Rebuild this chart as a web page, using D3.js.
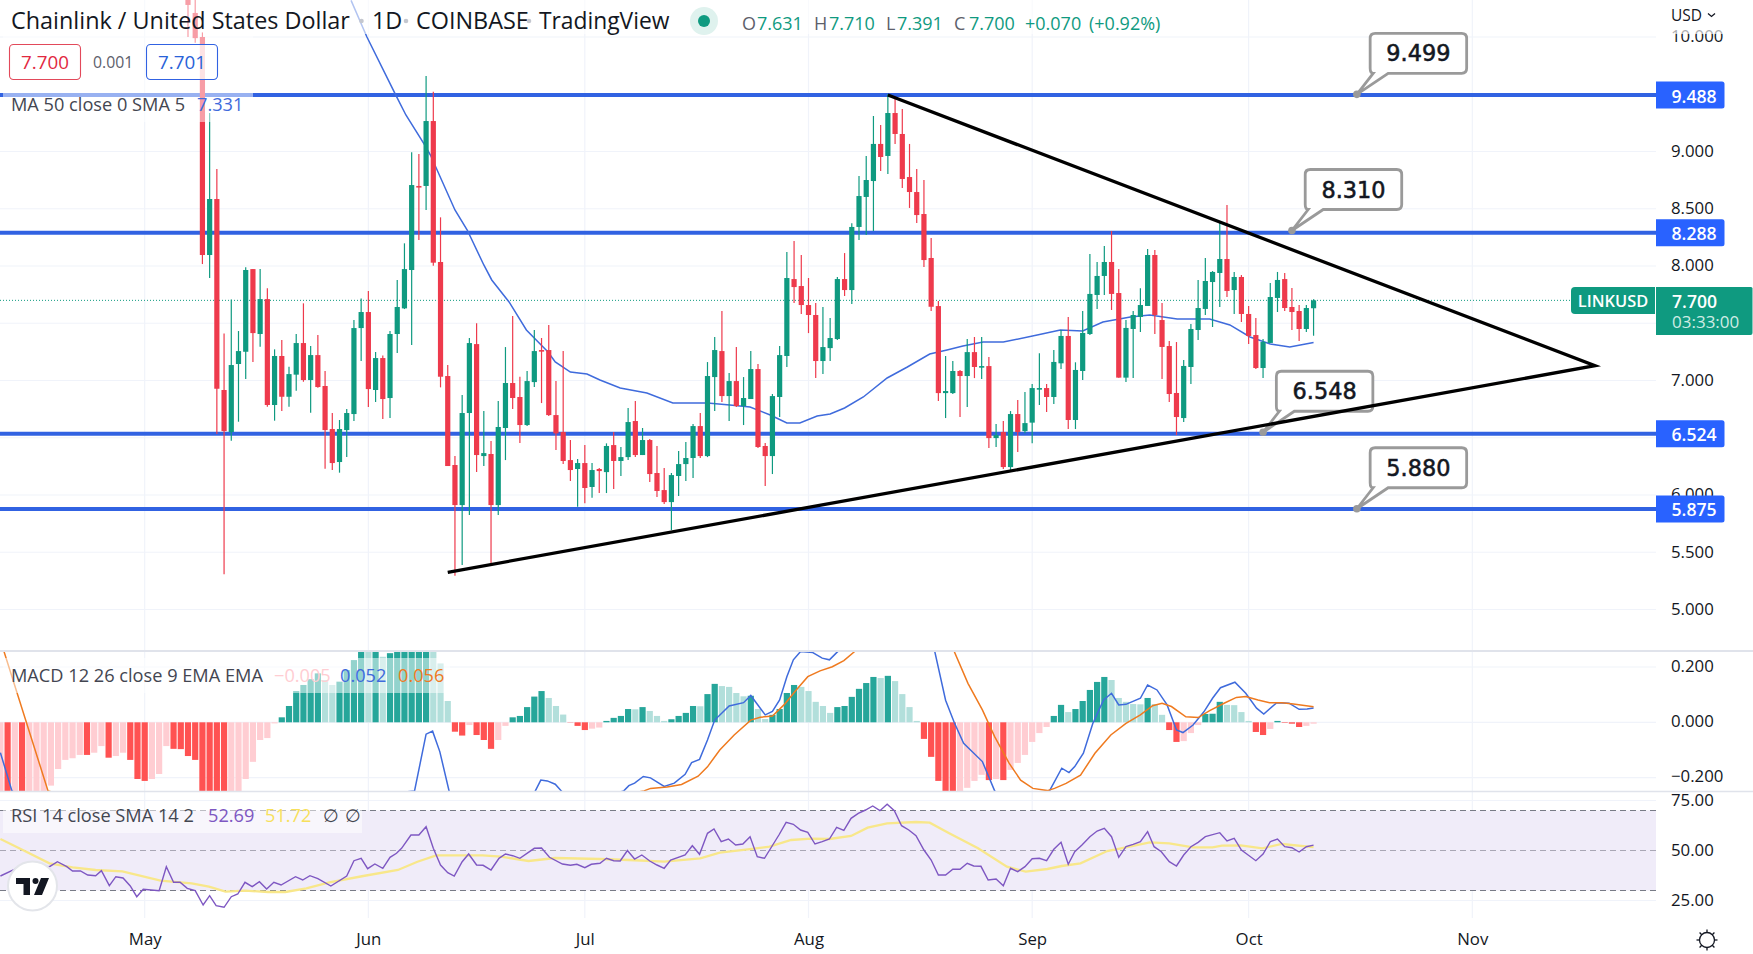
<!DOCTYPE html>
<html>
<head>
<meta charset="utf-8">
<script src="https://cdn.jsdelivr.net/npm/d3@7"></script>
<style>
  html, body { margin: 0; padding: 0; background: #fff; }
  svg { display: block; }
  text { font-family: "Open Sans", sans-serif; }
</style>
</head>
<body>
<svg id="chart" width="1753" height="954"></svg>
<script>
// candles, one per day, day number counted from May 1
const firstDay = 6;
const opens = [10.35,10.21,10.0,8.096,8.585,6.917,6.55,7.144,7.251,7.973,7.406,7.711,6.786,7.214,6.858,7.051,7.327,7.004,7.222,6.952,6.576,6.288,6.567,6.707,7.458,7.598,6.917,7.196,6.847,7.406,7.63,7.965,8.699,8.699,9.266,8.035,7.039,6.262,5.912,6.716,7.318,6.34,6.358,5.912,6.585,6.978,6.856,6.611,6.986,7.266,7.266,6.698,6.55,6.305,6.227,6.279,6.07,6.227,6.2,6.436,6.297,6.331,6.646,6.349,6.48,6.192,6.043,5.938,6.166,6.27,6.323,6.602,6.34,7.03,7.257,6.864,6.995,6.777,6.838,7.1,6.428,6.34,6.856,7.214,7.886,7.825,7.659,7.572,7.17,7.283,7.362,7.886,7.79,8.341,8.603,8.742,9.066,8.961,9.336,9.153,8.777,8.646,8.454,8.07,7.65,6.89,6.89,7.083,7.039,7.248,7.118,7.126,6.497,6.55,6.244,6.707,6.558,6.632,6.926,6.934,6.856,7.15,7.389,6.655,7.083,7.406,7.747,7.913,8.035,7.764,7.025,7.45,7.555,7.651,8.096,7.528,7.301,6.891,6.672,7.118,7.441,7.625,7.86,7.939,8.061,7.79,7.904,7.581,7.397,7.109,7.328,7.721,7.886,7.642,7.607,7.45,7.631];
const highs = [10.5,10.5,10.04,9.336,8.847,7.411,7.708,7.432,7.988,7.973,7.973,7.805,7.272,7.353,7.12,7.406,7.674,7.301,7.397,7.083,6.716,6.655,6.751,7.528,7.717,7.781,7.249,7.219,7.432,7.877,8.198,8.993,8.978,9.659,9.522,8.425,7.135,6.34,6.873,7.371,7.499,6.733,6.471,6.821,7.292,7.563,7.033,7.083,7.441,7.371,7.484,6.995,7.257,6.48,6.314,6.436,6.279,6.235,6.451,6.55,6.419,6.759,6.821,6.585,6.489,6.428,6.235,6.192,6.384,6.463,6.62,6.716,7.161,7.38,7.607,7.065,7.292,7.03,7.257,7.144,6.454,6.882,7.301,8.122,8.218,8.096,7.895,7.676,7.641,7.545,7.904,8.113,8.373,8.786,8.961,9.31,9.232,9.502,9.485,9.371,9.066,8.847,8.751,8.245,7.694,7.214,7.17,7.091,7.362,7.38,7.38,7.205,6.62,6.646,6.733,6.829,6.899,6.969,7.237,6.969,7.266,7.441,7.555,7.159,7.607,8.105,8.035,8.175,8.306,7.974,7.528,7.607,7.805,8.149,8.14,7.677,7.345,7.336,7.179,7.493,7.878,8.07,7.956,8.393,8.533,7.948,7.921,7.651,7.546,7.362,7.852,7.948,7.939,7.808,7.659,7.659,7.71];
const lows = [10.0,9.95,8.017,7.895,6.532,5.307,6.474,6.64,7.013,7.161,7.295,6.771,6.649,6.733,6.771,6.911,6.989,6.719,6.937,6.23,6.218,6.195,6.331,6.646,7.17,6.768,6.812,6.663,6.672,7.24,7.624,7.31,8.227,8.489,8.003,6.94,6.253,5.295,5.388,5.825,6.201,6.253,5.403,5.825,6.305,6.751,6.454,6.602,6.943,6.803,6.69,6.393,6.27,6.122,5.898,5.927,5.976,6.017,6.017,6.052,6.166,6.305,6.331,6.349,6.113,5.982,5.921,5.694,5.991,6.122,6.148,6.323,6.331,6.733,6.812,6.646,6.768,6.611,6.838,6.41,6.078,6.183,6.681,7.118,7.676,7.58,7.414,7.021,7.056,7.17,7.353,7.738,7.668,8.227,8.271,8.306,8.83,8.804,9.066,8.681,8.507,8.376,7.991,7.607,6.821,6.672,6.882,6.681,6.768,7.021,7.013,6.41,6.419,6.227,6.209,6.375,6.54,6.451,6.786,6.725,6.795,7.1,6.576,6.576,7.004,7.397,7.624,7.747,7.616,7.025,6.987,7.022,7.424,7.651,7.406,7.013,6.812,6.524,6.638,6.969,7.354,7.572,7.467,7.642,7.729,7.581,7.511,7.319,7.1,7.022,7.328,7.598,7.607,7.441,7.345,7.424,7.391];
const closes = [10.28,9.99,8.096,8.585,6.928,6.558,7.135,7.257,7.965,7.414,7.711,6.786,7.214,6.858,7.056,7.327,7.004,7.222,6.943,6.567,6.279,6.576,6.716,7.458,7.598,6.925,7.196,6.838,7.406,7.642,7.973,8.707,8.689,9.266,8.029,7.033,6.253,5.912,6.716,7.327,6.349,6.366,5.912,6.594,6.978,6.847,6.611,6.995,7.257,7.257,6.698,6.538,6.297,6.218,6.279,6.061,6.218,6.209,6.428,6.297,6.331,6.637,6.349,6.48,6.183,6.035,5.938,6.174,6.27,6.323,6.602,6.34,7.039,7.266,6.864,6.995,6.777,6.847,7.1,6.419,6.34,6.864,7.222,7.895,7.816,7.659,7.572,7.17,7.292,7.371,7.886,7.79,8.341,8.611,8.751,9.066,8.952,9.336,9.153,8.76,8.646,8.445,8.052,7.644,6.89,6.908,7.083,7.039,7.248,7.118,7.126,6.497,6.524,6.244,6.707,6.55,6.628,6.934,6.934,6.856,7.162,7.389,6.655,7.092,7.415,7.756,7.913,8.035,7.756,7.025,7.459,7.572,7.659,8.096,7.572,7.293,6.882,6.681,7.127,7.45,7.633,7.869,7.948,8.061,7.782,7.904,7.581,7.389,7.109,7.336,7.729,7.878,7.633,7.598,7.45,7.633,7.7];

// 50 day moving average
const maDays = [28.6,30.8,34.8,36.2,38.8,39.6,43,44.7,47,48.1,50.5,52.9,55.9,56.9,59,61.3,63.1,65.9,69.6,73.2,78,81.1,83.9,86.7,89,90.8,93.2,95,97,99.6,102.9,105.7,108.8,111.2,113.4,116.2,119,123.7,126.9,130,132.8,136.6,139.3,143.1,147.6,150.4,153.2,156,158.7,162];
const maValues = [10.32,10,9.493,9.319,9.057,8.969,8.489,8.314,8.009,7.878,7.686,7.441,7.249,7.162,7.074,7.057,7.004,6.934,6.891,6.803,6.803,6.786,6.769,6.699,6.629,6.629,6.69,6.707,6.76,6.856,7.022,7.118,7.231,7.266,7.301,7.336,7.336,7.397,7.441,7.432,7.511,7.555,7.572,7.537,7.537,7.485,7.38,7.319,7.293,7.331];

// support and resistance levels, where the lines sit and what their tags say
const levelValues = [9.493,8.291,6.535,5.878];
const levelLabels = ["9.488","8.288","6.524","5.875"];
const calloutValues = [9.499,8.31,6.548,5.88];
const calloutLabels = ["9.499","8.310","6.548","5.880"];
const calloutDays = [168,159,155,168];

// triangle drawn on the chart
const triangleDays = [103,201,42];
const trianglePrices = [9.493,7.129,5.325];

// macd histogram, starts at day -20
const histFirstDay = -20;
const histValues = [-.40,-.42,-.39,-.41,-.38,-.33,-.25,-.229,-.169,-.136,-.13,-.118,-.118,-.11,-.086,-.128,-.122,-.11,-.136,-.205,-.212,-.205,-.187,-.086,-.096,-.097,-.122,-.136,-.26,-.30,-.33,-.35,-.31,-.27,-.205,-.143,-.064,-.057,-.004,.018,.059,.113,.135,.156,.177,.153,.135,.147,.189,.225,.27,.262,.28,.237,.25,.27,.30,.33,.35,.37,.30,.213,.077,-.034,-.048,-.01,-.046,-.064,-.096,-.064,-.013,.018,.023,.055,.093,.113,.088,.059,.028,-.001,-.013,-.028,-.023,-.019,.005,.016,.023,.048,.047,.055,.041,.023,.005,.011,.023,.034,.059,.058,.102,.139,.131,.128,.106,.094,.096,.048,.012,.027,.048,.106,.135,.128,.113,.074,.059,.034,.055,.059,.092,.121,.142,.164,.16,.168,.149,.102,.055,.005,-.06,-.125,-.212,-.26,-.27,-.25,-.237,-.212,-.19,-.209,-.205,-.209,-.172,-.147,-.118,-.071,-.039,-.017,.023,.063,.037,.048,.077,.117,.146,.164,.153,.088,.074,.066,.065,.088,.066,.027,-.028,-.071,-.068,-.039,-.01,.03,.031,.074,.063,.062,.037,.005,-.035,-.046,-.024,.005,-.002,-.005,-.017,-.013,-.005];

const macdDays = [-20,-18.4,-10,37.4,39,39.9,40.9,42.2,46,54.1,54.9,55.8,56.9,57.8,60,66.4,67.1,67.9,69.1,70.1,72,73.4,74.9,75.8,76.9,78,79,81,83,84,86,87,88,89,89.9,90.9,92.6,93.9,94.9,95.9,98,103,107,109.5,111,112.2,113.5,116.1,117.8,120,123,125.4,127.1,128.1,128.9,130.1,131.4,132.9,134,135,136,138,139,140.3,141.7,143,143.9,145.3,146.8,148,149.1,151.1,152.6,154.1,155.1,156.9,158.6,160,161.1,162];
const macdValues = [-.11,-.248,-.40,-.248,-.043,-.032,-.106,-.25,-.40,-.25,-.209,-.212,-.224,-.25,-.30,-.248,-.229,-.22,-.196,-.201,-.232,-.22,-.188,-.146,-.134,-.064,.008,.059,.071,.097,.027,.039,.081,.165,.226,.256,.252,.232,.226,.252,.30,.45,.35,.256,.08,-.001,-.076,-.142,-.248,-.30,-.31,-.248,-.166,-.182,-.16,-.112,-.004,.081,.105,.063,.065,.087,.135,.117,.063,-.028,-.037,-.01,.038,.087,.125,.145,.105,.051,.03,.071,.069,.047,.048,.052];
const signalDays = [-20,-19.5,-13.4,0,30,50,65,69.2,70.1,72.4,74.4,76.7,78,79.7,81.7,84,85.3,87,88.6,90.3,91.9,93.6,95.3,96.9,98.4,103,107,112.2,114.1,116.1,117.8,119.8,121.4,123.1,125.1,126.1,127.7,129.7,131.7,133.9,136,138,139.7,141,142.3,144.3,146,147.6,149.6,151.3,152.6,154.3,155.9,157.6,159.2,162];
const signalValues = [.32,.256,-.248,-.35,-.30,-.30,-.27,-.248,-.239,-.234,-.225,-.195,-.161,-.10,-.046,.008,.018,.023,.063,.117,.165,.186,.201,.223,.256,.35,.33,.256,.141,.045,-.052,-.148,-.209,-.239,-.247,-.239,-.221,-.191,-.112,-.046,-.004,.027,.06,.069,.057,.02,.017,.042,.069,.09,.093,.081,.071,.071,.066,.056];

const rsiDays = [-20,-18.2,-17.1,-13.2,-12.1,-10.8,-10,-8.9,-7.9,-6.8,-6,-4.9,-4,-3,-2,-1.1,-.2,2,3,4,4.9,5.9,7,8.1,9,9.9,11,12,12.9,13.9,14.9,15.9,16.9,17.9,18.9,20.9,21.9,22.9,24,25.8,28,29,30,30.9,31.9,33,34,34.9,35.6,36.9,38,39,40,41,42,42.9,44,44.9,46,46.9,48,49.1,50,51,52,54,55,56.1,57.9,59,59.9,61,61.9,63.1,64,65,65.9,66.9,67.9,68.9,70,71,72,72.9,74.9,75.9,76.9,78,78.9,79.9,80.9,81.9,82.9,83.9,84.9,85.9,87.9,88.9,89.9,90.9,91.9,92.9,93.9,94.9,95.9,96.9,97.9,98.9,99.9,100.9,101.9,102.9,103.9,104.9,105.9,106.9,108,109,110,111,112,113,114,114.9,115.9,116.9,118,119,120,121,122,123,124,125,126,127,128,128.9,129.9,131,132,133,134,135,136,137,138,139,139.9,140.9,142,143,144,145,146,147,149,150,151,152,154,155,156,157,158,159,160,161,162];
const rsiValues = [37.25,40.25,42.75,41.9,44.4,41.9,39.75,39.75,37.75,37.4,39.9,32.4,36.9,36.25,32.25,26.9,30.6,29.9,41.9,34.1,34.1,31.1,29.9,22.75,27.4,22.4,21.6,26.9,28.25,34.1,31.9,34.4,30.75,34.1,32.75,36.9,35.25,37.4,35.9,32.25,37.25,44.9,46.1,40.9,43.25,41.1,46.6,48.6,51.1,57.75,57.75,61.9,51.1,42.75,38.9,37.25,44.4,48.25,42.75,42.6,40.25,46.1,48.25,47.4,46.1,51.1,51.25,46.6,43.25,42.6,43.1,41.4,43.1,43.6,46.1,44.9,44.75,50,45.75,47.75,44.75,42.75,41.1,45.25,47.75,52.4,48.1,58.6,60.75,54.4,55.75,52.75,53.25,56.9,46.9,46.1,57.75,64.1,63.1,60.25,59.1,53.25,54.4,55.75,61.6,60.1,66.1,68.6,70.25,72.25,69.9,73.1,69.9,62.4,60.25,57.4,50.25,45.25,37.75,37.75,40.6,40.6,43.6,42.25,42.1,35.25,35.75,32.4,41.1,39.4,41.9,45.9,46.1,44.9,50.6,54.1,43.1,49.4,52.75,56.9,59.75,61.1,56.9,46.6,51.9,53.1,54.4,59.4,51.9,49.4,44.4,42.25,47.75,51.9,54.1,56.9,58.9,54.75,56.1,50.25,44.9,48.25,54.4,55.75,51.9,51.4,49.25,51.9,52.69];
const rsiMaDays = [-20,-16.9,-13.2,-10,-6.8,-3.1,2.2,6.5,8.9,11.2,13.9,17.1,19.5,22.4,25.6,30.3,35.1,37.8,40.4,43.6,46.8,49.4,53.2,56.9,63.1,67.1,72,77,79.7,83.6,86.6,89.6,92.3,94.9,97.9,100.2,102.9,106.9,108.8,111.5,115.5,119.5,122.1,125.1,127.1,129.7,133.4,136,139.3,142,145.3,148,149.3,151.9,154.9,157.6,162];
const rsiMaValues = [55.75,50.25,43.6,41.6,40.25,39.6,34.9,33.6,31.9,29.4,29.9,29.25,29.25,31.1,34.1,37.25,40.25,44.4,47.6,47.6,47.6,46.9,44.75,46.25,45.75,45.25,44.4,46.1,48.9,50.6,51.9,55.25,55.9,55.75,57.25,61.4,63.6,64.25,63.9,58.6,51.1,41.9,39.4,40.75,42.25,43.6,49.75,51.6,54.1,53.6,51.6,51.6,52.4,52.6,51.1,53.25,51.72];

// axis labels
const monthDays = [0,31,61,92,123,153,184];
const monthLabels = ["May","Jun","Jul","Aug","Sep","Oct","Nov"];
const priceTicks = [10,9,8.5,8,7,6,5.5,5];
const priceGrid = [10,9.5,9,8.5,8,7.5,7,6.5,6,5.5,5];
const macdTicks = [.2,0,-.2];
const rsiTicks = [75,50,25];
const lastPrice = 7.7;

const svg = d3.select("#chart");
const W = 1753, plotRight = 1656;

const x = d3.scaleLinear().domain([0, 184]).range([144.7, 1472.3]);
const yPrice = d3.scaleLinear().domain([5, 10]).range([609.5, 37]);
const yMacd = d3.scaleLinear().domain([-.2, .2]).range([777.6, 667]);
const yRsi = d3.scaleLinear().domain([25, 75]).range([900.5, 800.5]);

const defs = svg.append("defs");
defs.append("clipPath").attr("id", "clipMain").append("rect").attr("x", 0).attr("y", 0).attr("width", plotRight).attr("height", 651);
defs.append("clipPath").attr("id", "clipMacd").append("rect").attr("x", 0).attr("y", 652).attr("width", plotRight).attr("height", 139);
defs.append("clipPath").attr("id", "clipRsi").append("rect").attr("x", 0).attr("y", 792).attr("width", plotRight).attr("height", 126);

// grid
const grid = svg.append("g").attr("stroke", "#f0f3fa").attr("stroke-width", 1.2);
grid.selectAll(".v").data(monthDays).join("line").attr("x1", d => x(d)).attr("x2", d => x(d)).attr("y1", 0).attr("y2", 918);
grid.selectAll(".p").data(priceGrid).join("line").attr("x1", 0).attr("x2", plotRight).attr("y1", d => yPrice(d)).attr("y2", d => yPrice(d));
grid.selectAll(".m").data(macdTicks).join("line").attr("x1", 0).attr("x2", plotRight).attr("y1", d => yMacd(d)).attr("y2", d => yMacd(d));
grid.selectAll(".r").data(rsiTicks).join("line").attr("x1", 0).attr("x2", plotRight).attr("y1", d => yRsi(d)).attr("y2", d => yRsi(d));

// main pane
const main = svg.append("g").attr("clip-path", "url(#clipMain)");

main.append("line").attr("x1", 0).attr("x2", 1571).attr("y1", yPrice(lastPrice)).attr("y2", yPrice(lastPrice))
  .attr("stroke", "#0f9a80").attr("stroke-width", 1).attr("stroke-dasharray", "1 2");

main.selectAll(".level").data(levelValues).join("line").attr("class", "level")
  .attr("x1", 0).attr("x2", plotRight).attr("y1", d => yPrice(d)).attr("y2", d => yPrice(d))
  .attr("stroke", "#3162e2").attr("stroke-width", 4);

const lineOf = (yScale) => d3.line().x(d => x(d[0])).y(d => yScale(d[1]));

main.append("path").attr("d", lineOf(yPrice)(d3.zip(maDays, maValues)))
  .attr("fill", "none").attr("stroke", "#3f6bdc").attr("stroke-width", 1.5);

const candles = opens.map((o, i) => ({ day: firstDay + i, o, h: highs[i], l: lows[i], c: closes[i] }));
const candleColor = d => d.c >= d.o ? "#0f9a80" : "#ee3a4c";
main.selectAll(".wick").data(candles).join("line").attr("class", "wick")
  .attr("x1", d => x(d.day)).attr("x2", d => x(d.day))
  .attr("y1", d => yPrice(d.h)).attr("y2", d => yPrice(d.l))
  .attr("stroke", candleColor).attr("stroke-width", 1.2);
main.selectAll(".body").data(candles).join("rect").attr("class", "body")
  .attr("x", d => x(d.day) - 2.6).attr("width", 5.2)
  .attr("y", d => yPrice(Math.max(d.o, d.c)))
  .attr("height", d => Math.max(1.6, Math.abs(yPrice(d.o) - yPrice(d.c))))
  .attr("fill", candleColor);

// macd pane
const macd = svg.append("g").attr("clip-path", "url(#clipMacd)");
const histColor = (v, i) => {
  const prev = i > 0 ? histValues[i - 1] : v - .01;
  if (v >= 0) return v >= prev ? "#26a69a" : "#b2dfdb";
  return v > prev ? "#ffcdd2" : "#ff5252";
};
macd.selectAll("rect").data(histValues).join("rect")
  .attr("x", (v, i) => x(histFirstDay + i) - 3.1).attr("width", 6.2)
  .attr("y", v => Math.min(yMacd(v), yMacd(0)))
  .attr("height", v => Math.abs(yMacd(v) - yMacd(0)))
  .attr("fill", histColor);
macd.append("path").attr("d", lineOf(yMacd)(d3.zip(macdDays, macdValues)))
  .attr("fill", "none").attr("stroke", "#3f6bdc").attr("stroke-width", 1.5);
macd.append("path").attr("d", lineOf(yMacd)(d3.zip(signalDays, signalValues)))
  .attr("fill", "none").attr("stroke", "#ef7a1f").attr("stroke-width", 1.5);

// rsi pane
const rsi = svg.append("g").attr("clip-path", "url(#clipRsi)");
rsi.append("rect").attr("x", 0).attr("width", plotRight).attr("y", yRsi(70)).attr("height", yRsi(30) - yRsi(70)).attr("fill", "#f0ecf9");
rsi.selectAll(".band").data([70, 50, 30]).join("line").attr("class", "band")
  .attr("x1", 0).attr("x2", plotRight).attr("y1", d => yRsi(d)).attr("y2", d => yRsi(d))
  .attr("stroke", d => d === 50 ? "#a9a7b5" : "#787b86").attr("stroke-width", 1.1).attr("stroke-dasharray", "6 4");
rsi.append("path").attr("d", lineOf(yRsi)(d3.zip(rsiMaDays, rsiMaValues)))
  .attr("fill", "none").attr("stroke", "#f8e78a").attr("stroke-width", 2.3);
rsi.append("path").attr("d", lineOf(yRsi)(d3.zip(rsiDays, rsiValues)))
  .attr("fill", "none").attr("stroke", "#7e57c2").attr("stroke-width", 1.4);

// pane separators
svg.append("line").attr("x1", 0).attr("x2", W).attr("y1", 651).attr("y2", 651).attr("stroke", "#e0e3eb").attr("stroke-width", 2);
svg.append("line").attr("x1", 0).attr("x2", W).attr("y1", 791.5).attr("y2", 791.5).attr("stroke", "#e0e3eb").attr("stroke-width", 1.4);

// callouts
const callouts = svg.append("g");
calloutLabels.forEach((label, i) => {
  const tipX = x(calloutDays[i]), tipY = yPrice(calloutValues[i]);
  const bx = tipX + 13.3, by = tipY - 61, bw = 96.5, bh = 40, r = 5;
  const path = d3.path();
  path.moveTo(bx + r, by);
  path.lineTo(bx + bw - r, by);
  path.quadraticCurveTo(bx + bw, by, bx + bw, by + r);
  path.lineTo(bx + bw, by + bh - r);
  path.quadraticCurveTo(bx + bw, by + bh, bx + bw - r, by + bh);
  path.lineTo(bx + 18, by + bh);
  path.lineTo(tipX, tipY);
  path.lineTo(bx + 3, by + bh);
  path.quadraticCurveTo(bx, by + bh, bx, by + bh - r);
  path.lineTo(bx, by + r);
  path.quadraticCurveTo(bx, by, bx + r, by);
  path.closePath();
  callouts.append("path").attr("d", path.toString()).attr("fill", "#fff").attr("stroke", "#9a9a9a").attr("stroke-width", 2.8);
  callouts.append("circle").attr("cx", tipX).attr("cy", tipY).attr("r", 3.8).attr("fill", "#9a9a9a");
  callouts.append("text").attr("x", bx + bw / 2).attr("y", by + 20).attr("text-anchor", "middle").attr("dominant-baseline", "central")
    .attr("font-size", 22.4).style("font-family", "'DejaVu Sans'").attr("fill", "#131722")
    .attr("stroke", "#131722").attr("stroke-width", .55).text(label);
});

// triangle goes over the callouts
svg.append("path").attr("d", lineOf(yPrice)(d3.zip(triangleDays, trianglePrices)))
  .attr("fill", "none").attr("stroke", "#000").attr("stroke-width", 3.3).attr("stroke-linejoin", "miter");

// legend backdrops
const veil = svg.append("g").attr("fill", "#fff");
veil.append("rect").attr("x", 3).attr("y", 0).attr("width", 250).attr("height", 122).attr("opacity", .5);
veil.append("rect").attr("x", 253).attr("y", 0).attr("width", 910).attr("height", 34).attr("opacity", .6);
veil.append("rect").attr("x", 3).attr("y", 658).attr("width", 447).attr("height", 35).attr("opacity", .5);
veil.append("rect").attr("x", 3).attr("y", 810).attr("width", 359).attr("height", 23).attr("opacity", .5);

// axes
const tickStyle = g => {
  g.select(".domain").remove();
  g.selectAll("text").attr("font-size", 16.8).attr("fill", "#131722");
  g.selectAll("line").remove();
};
const fmt3 = d => d3.format(".3f")(d).replace("-", "\u2212");
svg.append("g").attr("transform", "translate(1671,-.5)")
  .call(d3.axisLeft(yPrice).tickValues(priceTicks).tickFormat(fmt3).tickSize(0).tickPadding(0))
  .call(tickStyle).selectAll("text").attr("text-anchor", "start");
svg.append("g").attr("transform", "translate(1671,-1)")
  .call(d3.axisLeft(yMacd).tickValues(macdTicks).tickFormat(fmt3).tickSize(0).tickPadding(0))
  .call(tickStyle).selectAll("text").attr("text-anchor", "start");
svg.append("g").attr("transform", "translate(1671,-.5)")
  .call(d3.axisLeft(yRsi).tickValues(rsiTicks).tickFormat(d3.format(".2f")).tickSize(0).tickPadding(0))
  .call(tickStyle).selectAll("text").attr("text-anchor", "start");
svg.append("g").attr("transform", "translate(0,933.2)")
  .call(d3.axisBottom(x).tickValues(monthDays).tickFormat((d, i) => monthLabels[i]).tickSize(0).tickPadding(0))
  .call(tickStyle);

// fade the top price label, like the scale header does
svg.append("rect").attr("x", 1660).attr("y", 26).attr("width", 93).attr("height", 8).attr("fill", "#fff").attr("opacity", .65);

// level labels on the price scale
const levelTags = svg.append("g");
levelValues.forEach((v, i) => {
  const cy = yPrice(v);
  levelTags.append("path").attr("d", `M1656,${cy - 13.5}H1722a2.5,2.5 0 0 1 2.5,2.5V${cy + 11}a2.5,2.5 0 0 1 -2.5,2.5H1656Z`).attr("fill", "#2962ff");
  levelTags.append("text").attr("x", 1671.5).attr("y", cy + .5).attr("dominant-baseline", "central").attr("font-size", 17.6).attr("font-weight", 600).attr("fill", "#fff").text(levelLabels[i]);
});

// last price tag
const tag = svg.append("g");
tag.append("path").attr("d", "M1655,287H1575a4,4 0 0 0 -4,4V310a4,4 0 0 0 4,4H1655Z").attr("fill", "#0f9a80");
tag.append("text").attr("x", 1613).attr("y", 300.5).attr("text-anchor", "middle").attr("dominant-baseline", "central").attr("font-size", 16.4).attr("font-weight", 600).attr("fill", "#fff").text("LINKUSD");
tag.append("path").attr("d", "M1656,287H1751a1.5,1.5 0 0 1 1.5,1.5V333a2,2 0 0 1 -2,2H1656Z").attr("fill", "#0f9a80");
tag.append("text").attr("x", 1672).attr("y", 300.5).attr("dominant-baseline", "central").attr("font-size", 17.6).attr("font-weight", 600).attr("fill", "#fff").text("7.700");
tag.append("text").attr("x", 1672).attr("y", 321.5).attr("dominant-baseline", "central").attr("font-size", 17).attr("fill", "#cfece5").text("03:33:00");

// header text
const addText = (px, py, s, size, color, extra) => {
  const t = svg.append("text").attr("x", px).attr("y", py).attr("dominant-baseline", "central").attr("font-size", size).attr("fill", color).text(s);
  if (extra) extra(t);
  return t;
};
addText(11, 20, "Chainlink / United States Dollar", 23.4, "#131722");
addText(372, 20, "1D", 23.4, "#131722");
addText(416, 20, "COINBASE", 23.4, "#131722");
addText(539, 20, "TradingView", 22.8, "#131722");
[361.5, 406, 529].forEach(px => svg.append("circle").attr("cx", px).attr("cy", 21).attr("r", 2.3).attr("fill", "#c4c7cf"));

svg.append("circle").attr("cx", 704).attr("cy", 21).attr("r", 14).attr("fill", "#dff2ee");
svg.append("circle").attr("cx", 704).attr("cy", 21).attr("r", 6).attr("fill", "#0f9a80");
const ohlcNames = ["O", "H", "L", "C"], ohlcValues = ["7.631", "7.710", "7.391", "7.700"];
const ohlcX = [742, 814, 886, 954], ohlcValX = [757, 829, 897, 969];
ohlcNames.forEach((n, i) => {
  addText(ohlcX[i], 23, n, 18, "#5d606b");
  addText(ohlcValX[i], 23, ohlcValues[i], 18, "#0f9a80");
});
addText(1025, 23, "+0.070", 18, "#0f9a80");
addText(1089, 23, "(+0.92%)", 18, "#0f9a80");

// bid ask boxes
svg.append("rect").attr("x", 9.5).attr("y", 44.5).attr("width", 71).attr("height", 35).attr("rx", 4).attr("fill", "#fff").attr("fill-opacity", .7).attr("stroke", "#e2495a").attr("stroke-width", 1.1);
addText(45, 62, "7.700", 18.8, "#e2293f", t => t.attr("text-anchor", "middle"));
addText(93, 62, "0.001", 15.8, "#5d606b");
svg.append("rect").attr("x", 146.5).attr("y", 44.5).attr("width", 71).attr("height", 35).attr("rx", 4).attr("fill", "#fff").attr("fill-opacity", .7).attr("stroke", "#3162e2").attr("stroke-width", 1.1);
addText(182, 62, "7.701", 18.8, "#2962d8", t => t.attr("text-anchor", "middle"));

// indicator legends
addText(11, 103.5, "MA 50 close 0 SMA 5", 18.2, "#434651");
addText(197, 103.5, "7.331", 18.2, "#3f6bdc");
addText(11, 674.5, "MACD 12 26 close 9 EMA EMA", 18.2, "#434651");
addText(274, 674.5, "\u22120.005", 18.2, "#ffcdd2");
addText(340, 674.5, "0.052", 18.2, "#3f6bdc");
addText(398, 674.5, "0.056", 18.2, "#ef7a1f");
addText(11, 814.5, "RSI 14 close SMA 14 2", 18.2, "#434651");
addText(208, 814.5, "52.69", 18.2, "#7e57c2");
addText(265, 814.5, "51.72", 18.2, "#f7e05c");
addText(323, 814.5, "\u2205", 18.2, "#434651");
addText(345, 814.5, "\u2205", 18.2, "#434651");

// currency selector
addText(1671, 15, "USD", 15.5, "#131722");
svg.append("path").attr("d", "M1708,13.5l3.5,3l3.5,-3").attr("fill", "none").attr("stroke", "#131722").attr("stroke-width", 1.3);

// logo
svg.append("circle").attr("cx", 32.5).attr("cy", 886).attr("r", 24.5).attr("fill", "#fff").attr("stroke", "#e3e5ea").attr("stroke-width", 2);
svg.append("path").attr("d", "M16,878H30V895H23.5V884H16ZM41,878H49L42,895H34Z").attr("fill", "#131722");
svg.append("circle").attr("cx", 35.5).attr("cy", 881).attr("r", 3).attr("fill", "#131722");

// settings gear
const gear = svg.append("g").attr("transform", "translate(1707,940)").attr("fill", "none").attr("stroke", "#131722").attr("stroke-width", 1.3);
gear.append("circle").attr("r", 7.5);
d3.range(8).forEach(i => {
  const a = i * Math.PI / 4;
  gear.append("line").attr("x1", Math.cos(a) * 7.5).attr("y1", Math.sin(a) * 7.5).attr("x2", Math.cos(a) * 10.5).attr("y2", Math.sin(a) * 10.5);
});
</script>
</body>
</html>
